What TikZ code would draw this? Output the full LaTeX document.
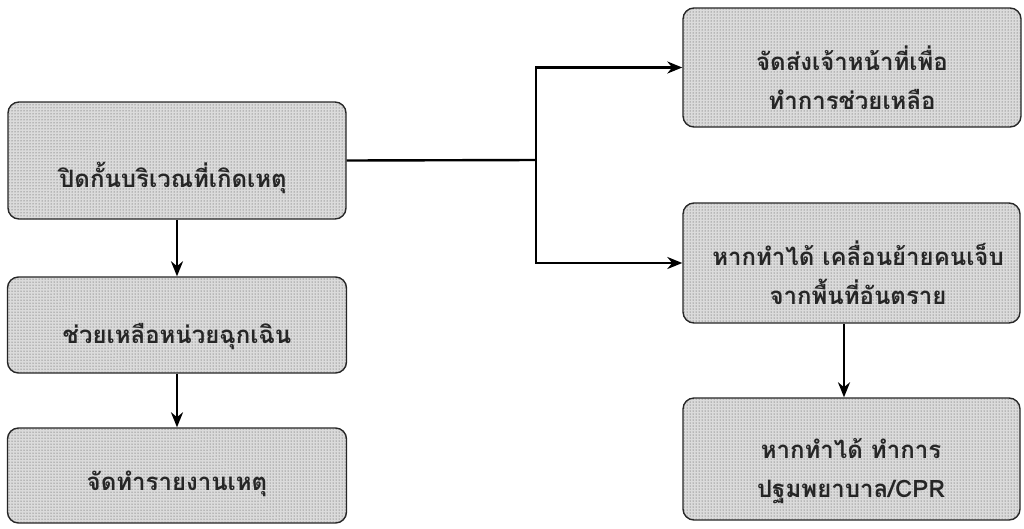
\documentclass[tikz,border=0pt]{standalone}
\usepackage{fontspec}
\newfontfamily\thai[Script=Thai]{Loma}
\usetikzlibrary{patterns,arrows.meta}
\begin{document}
\begin{tikzpicture}[x=1pt,y=-1pt,
  box/.style={draw=black!85, line width=1.4pt, rounded corners=11pt,
    fill=gray!28, postaction={pattern=dots, pattern color=black!75},
    inner sep=0pt},
  txt/.style={font=\thai\bfseries\fontsize{24}{39}\selectfont, align=center, text=black!85, inner sep=0pt},
  conn/.style={line width=2.4pt, black},
  arr/.style={conn, -{Stealth[length=15pt,width=12pt]}}]
\useasboundingbox (0,0) rectangle (1024,528);
% left column
\node[box, minimum width=338pt, minimum height=117pt] (b1) at (177,160.5) {};
\node[box, minimum width=339pt, minimum height=96pt] (b2) at (177,325) {};
\node[box, minimum width=339pt, minimum height=95pt] (b3) at (177,475.5) {};
% right column
\node[box, minimum width=338pt, minimum height=119pt] (b4) at (852,67.5) {};
\node[box, minimum width=337pt, minimum height=120pt] (b5) at (851.5,263) {};
\node[box, minimum width=337pt, minimum height=122pt] (b6) at (851.5,459) {};
% texts
\node[txt] (t1) at (173,178) {ปิดกั้นบริเวณที่เกิดเหตุ};
\node[txt] (t2) at (177,337) {ช่วยเหลือหน่วยฉุกเฉิน};
\node[txt] (t3) at (177,484) {จัดทำรายงานเหตุ};
\node[txt] (t4) at (852,78) {จัดส่งเจ้าหน้าที่เพื่อ\\ทำการช่วยเหลือ};
\node[txt] (t5) at (858,273) {หากทำได้ เคลื่อนย้ายคนเจ็บ\\จากพื้นที่อันตราย};
\node[txt] (t6) at (851,471) {หากทำได้ ทำการ\\ปฐมพยาบาล/CPR};
% connectors
\coordinate (j) at (536,160);
\draw[conn] (b1.east) -- (j);
\draw[arr] (j) |- (b4.west);
\draw[arr] (j) |- (b5.west);
\draw[arr] (b1.south) -- (b2.north);
\draw[arr] (b2.south) -- (b3.north);
\draw[arr] (b5.south -| 844,0) -- (b6.north -| 844,0);
\end{tikzpicture}
\end{document}
